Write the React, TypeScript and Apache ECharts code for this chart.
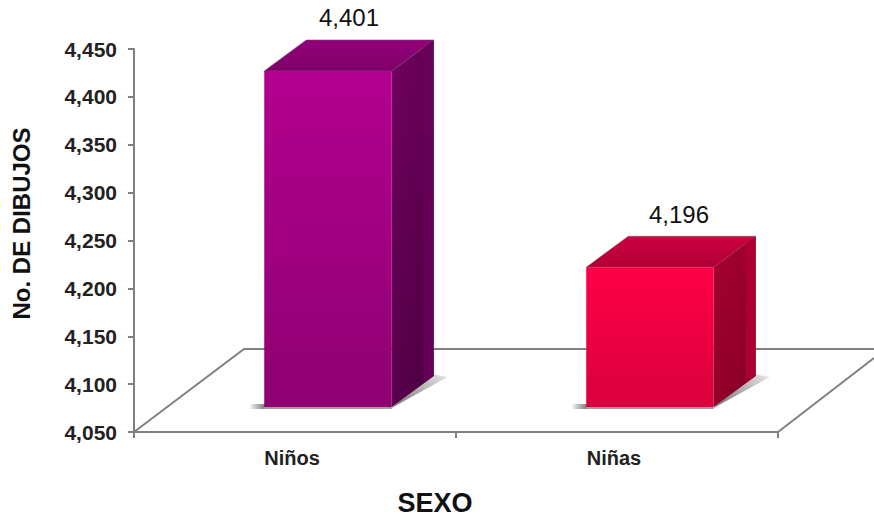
import React, { useEffect, useRef } from "react";
import * as echarts from "echarts";

const categories = ["Niños", "Niñas"];
const values = [4401, 4196];
const valueLabels = ["4,401", "4,196"];
const axisMin = 4050;
const axisMax = 4450;
const axisStep = 50;
const xTitle = "SEXO";
const yTitle = "No. DE DIBUJOS";

const frontTop = ["#b3008f", "#ff0048"];
const frontBottom = ["#8e0072", "#d9003c"];
const topColorA = ["#7f0068", "#b20036"];
const topColorB = ["#93007a", "#cc0040"];
const sideColorA = ["#720060", "#a80030"];
const sideColorB = ["#500044", "#8a0028"];
const stripColor = ["#68005a", "#b00033"];

const fmt = (v: number) => String(v).replace(/(\d)(\d{3})$/, "$1,$2");

const renderItem = (params: any, api: any) => {
  const i = api.value(0);
  const [cx, yTop] = api.coord([i, api.value(1)]);
  const [, yBase] = api.coord([i, axisMin]);
  const w = api.size([1, 0])[0] * 0.396;
  const dx = 33, lift = 25, dX = 42, dY = 31;
  const labelShift = i === 1 ? 7 : -1;
  const x0 = cx + dx - w / 2;
  const x1 = x0 + w;
  const yt = yTop - lift;
  const yb = yBase - lift;
  const linear = (x: number, y: number, x2: number, y2: number, a: string, b: string) => ({
    type: "linear", x, y, x2, y2,
    colorStops: [{ offset: 0, color: a }, { offset: 1, color: b }],
  });
  return {
    type: "group",
    children: [
      {
        type: "polygon",
        shape: { points: [[x1 - 2, yb + 2], [x1 + dX + 14, yb - dY + 1], [x1 + dX - 2, yb - dY - 2]] },
        style: { fill: linear(0, 1, 1, 0, "#6f6f6f", "#e8e8e8") },
      },
      {
        type: "rect",
        shape: { x: x0 - 14, y: yb - 3, width: 15, height: 5 },
        style: { fill: linear(0, 0, 1, 0, "#f2f2f2", "#777777") },
      },
      {
        type: "rect",
        shape: { x: x0, y: yb, width: w, height: 2 },
        style: { fill: "#a0a0a0" },
      },
      {
        type: "polygon",
        shape: { points: [[x0, yt], [x0 + dX, yt - dY], [x1 + dX, yt - dY], [x1, yt]] },
        style: {
          fill: linear(0, 0, 0, 1, topColorB[i], topColorA[i]),
          stroke: "#666666",
          lineWidth: 0.5,
          lineJoin: "round",
        },
      },
      {
        type: "polygon",
        shape: { points: [[x1, yt], [x1 + dX, yt - dY], [x1 + dX, yb - dY], [x1, yb]] },
        style: { fill: linear(0, 0, 0.6, 1, sideColorA[i], sideColorB[i]) },
      },
      {
        type: "polygon",
        shape: { points: [[x1 + dX - 10, yt - dY + 7], [x1 + dX, yt - dY], [x1 + dX, yb - dY], [x1 + dX - 10, yb - dY + 7]] },
        style: { fill: stripColor[i], opacity: 0.8 },
      },
      {
        type: "rect",
        shape: { x: x0, y: yt, width: w, height: yb - yt },
        style: { fill: linear(0, 0, 0, 1, frontTop[i], frontBottom[i]) },
      },
      {
        type: "text",
        x: x0 + w / 2 + dX / 2 + 1 + labelShift,
        y: yt - dY - 10,
        style: {
          text: valueLabels[i],
          fontFamily: "Liberation Sans",
          fontSize: 24,
          fill: "#111111",
          align: "center",
          verticalAlign: "bottom",
        },
      },
    ],
  };
};

export default function App() {
  const ref = useRef<HTMLDivElement>(null);
  useEffect(() => {
    document.body.style.margin = "0";
    const chart = echarts.init(ref.current!, undefined, { renderer: "svg" });
    const floorStyle = { stroke: "#808080", lineWidth: 2, fill: "none" };
    chart.setOption({
      animation: false,
      backgroundColor: "#ffffff",
      grid: { left: 134, right: 96, top: 49, bottom: 84, outerBoundsMode: "none" },
      graphic: [
        {
          type: "polyline",
          z: 1,
          shape: { points: [[134, 432], [244, 349], [874, 349]] },
          style: floorStyle,
        },
        {
          type: "line",
          z: 1,
          shape: { x1: 778, y1: 432, x2: 874, y2: 358 },
          style: floorStyle,
        },
      ],
      xAxis: {
        type: "category",
        data: categories,
        name: xTitle,
        nameLocation: "middle",
        nameGap: 57,
        nameTextStyle: { fontFamily: "Liberation Sans", fontWeight: "bold", fontSize: 27, color: "#111", padding: [0, 42, 0, 0] },
        axisLine: { lineStyle: { color: "#808080", width: 2 } },
        axisTick: { show: true, alignWithLabel: false, length: 6, lineStyle: { color: "#808080", width: 2 } },
        axisLabel: {
          fontFamily: "Liberation Sans",
          fontWeight: "bold",
          fontSize: 20,
          color: "#222",
          margin: 16,
          padding: [0, 6, 0, 0],
        },
      },
      yAxis: {
        type: "value",
        min: axisMin,
        max: axisMax,
        interval: axisStep,
        name: yTitle,
        nameLocation: "middle",
        nameGap: 101,
        nameTextStyle: { fontFamily: "Liberation Sans", fontWeight: "bold", fontSize: 24, color: "#111", padding: [0, 0, 0, 34] },
        axisLine: { show: true, lineStyle: { color: "#808080", width: 2 } },
        axisTick: { show: true, length: 6, lineStyle: { color: "#808080", width: 2 } },
        splitLine: { show: false },
        axisLabel: {
          fontFamily: "Liberation Sans",
          fontWeight: "bold",
          fontSize: 21,
          color: "#222",
          margin: 17,
          formatter: (v: number) => fmt(v),
        },
      },
      series: [
        {
          type: "custom",
          z: 5,
          clip: false,
          renderItem,
          data: values.map((v, i) => [i, v]),
          encode: { x: 0, y: 1 },
        },
      ],
    });
    return () => chart.dispose();
  }, []);
  return <div ref={ref} style={{ width: 874, height: 516 }} />;
}
